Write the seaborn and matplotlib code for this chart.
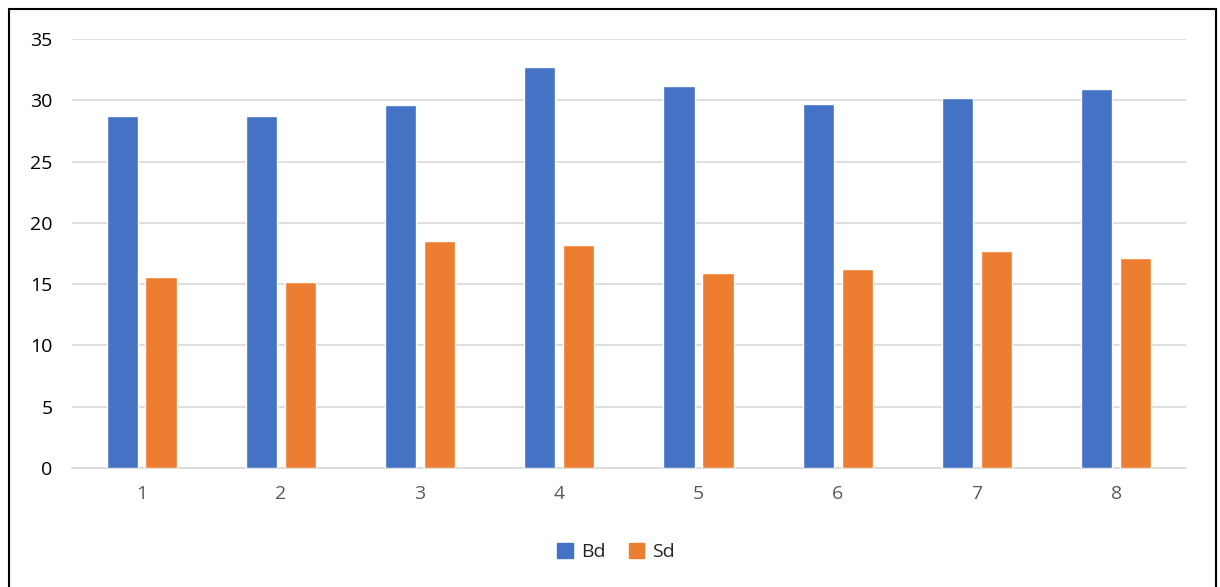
import pandas as pd
import matplotlib
matplotlib.use("Agg")
import matplotlib.pyplot as plt
import seaborn as sns
from matplotlib.patches import Rectangle

categories = ["1", "2", "3", "4", "5", "6", "7", "8"]
bd_values = [28.7, 28.7, 29.6, 32.7, 31.2, 29.7, 30.2, 30.9]
sd_values = [15.6, 15.2, 18.5, 18.2, 15.9, 16.2, 17.7, 17.1]
series_names = ["Bd", "Sd"]
colors = ["#4472C4", "#ED7D31"]

df = pd.DataFrame({
    "cat": categories * 2,
    "value": bd_values + sd_values,
    "series": [series_names[0]] * len(categories) + [series_names[1]] * len(categories),
})

sns.set_style("white")
plt.rcParams["font.family"] = ["Open Sans", "DejaVu Sans"]

fig = plt.figure(figsize=(12.2, 5.87), dpi=100)
ax = fig.add_axes([0.059, 0.2027, 0.913, 0.7309])

sns.barplot(data=df, x="cat", y="value", hue="series", order=categories,
            hue_order=series_names, palette=colors, width=0.56, gap=0.2,
            saturation=1, ax=ax, zorder=3)

ax.set_xlim(-0.5, 7.5)
ax.set_ylim(0, 35)
ax.set_yticks(range(0, 36, 5))
ax.yaxis.grid(True, color="#d9d9d9", linewidth=1.2, zorder=0)
ax.xaxis.grid(False)
for side in ["left", "right", "top"]:
    ax.spines[side].set_visible(False)
ax.spines["bottom"].set_color("#d9d9d9")
ax.spines["bottom"].set_linewidth(1.2)
ax.tick_params(axis="both", length=0, labelsize=14, labelcolor="#595959")
ax.tick_params(axis="y", pad=14)
ax.tick_params(axis="x", pad=12)
for lab in ax.get_yticklabels():
    lab.set_color("black")
ax.set_xlabel("")
ax.set_ylabel("")

ax.legend_.remove()
handles = [Rectangle((0, 0), 1, 1, color=c) for c in colors]
fig.legend(handles, series_names, loc="center", bbox_to_anchor=(0.505, 0.06),
           ncol=2, frameon=False, fontsize=14, handlelength=0.8, handleheight=0.8,
           handletextpad=0.4, columnspacing=1.2)

fig.patches.append(Rectangle((0.007, -0.01), 0.99, 0.995, transform=fig.transFigure,
                             fill=False, edgecolor="black", linewidth=1.5))

fig.savefig("out.png", dpi=100)
